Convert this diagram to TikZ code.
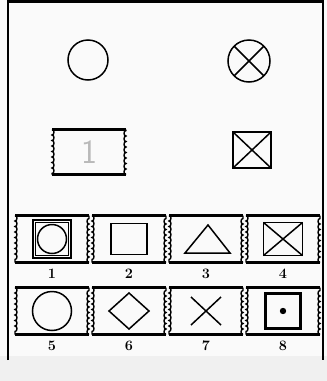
\documentclass[tikz,border=0pt]{standalone}
\usetikzlibrary{positioning,decorations.pathmorphing}
\begin{document}
\begin{tikzpicture}[x=1pt,y=-1pt,
  stamp/.style={minimum width=74, minimum height=47, inner sep=0, outer sep=0},
  rim/.style={line width=2.2},
  perf/.style={line width=1.4, decorate, decoration={bumps, amplitude=2, segment length=11}},
  glyph/.style={line width=1.5, inner sep=0, outer sep=0},
  num/.style={font=\Large\bfseries, inner sep=1}
]
  % paper and frame
  \useasboundingbox (0,0) rectangle (327,381);
  \fill[gray!4] (0,0) rectangle (327,381);
  \fill[gray!12] (0,356) rectangle (327,381);
  \draw[line width=2.2] (8,360) -- (8,1.5) -- (323,1.5) -- (323,360);

  % the given figures
  \node[glyph, draw, circle, minimum size=40] (ring) at (88,60) {};
  \node[glyph, draw, circle, minimum size=42] (cross) at (249,61) {};
  \draw[glyph] (cross.north west) -- (cross.south east) (cross.north east) -- (cross.south west);
  \node[stamp, minimum width=74, minimum height=45] (given) at (89,152) {};
  \node[font=\sffamily\fontsize{34}{34}\selectfont, text=gray!55] (one) at (given) {1};
  \node[glyph, draw, minimum width=38, minimum height=36] (boxx) at (252,150) {};
  \draw[glyph] (boxx.north west) -- (boxx.south east) (boxx.north east) -- (boxx.south west);

  % answer stamps
  \node[stamp] (s1) at (52,239) {};
  \node[stamp, right=3pt of s1] (s2) {};
  \node[stamp, right=3pt of s2] (s3) {};
  \node[stamp, right=3pt of s3] (s4) {};
  \node[stamp, below=25pt of s1] (s5) {};
  \node[stamp, right=3pt of s5] (s6) {};
  \node[stamp, right=3pt of s6] (s7) {};
  \node[stamp, right=3pt of s7] (s8) {};
  \foreach \s in {given,s1,s2,s3,s4,s5,s6,s7,s8} {
    \draw[rim] (\s.north west) -- (\s.north east) (\s.south west) -- (\s.south east);
    \draw[perf] (\s.north west) -- (\s.south west);
    \draw[perf] (\s.south east) -- (\s.north east);
  }
  \foreach \s/\n in {s1/1,s2/2,s3/3,s4/4,s5/5,s6/6,s7/7,s8/8}
    \node[num, below=5pt of \s] (l\n) {\n};

  % symbols inside the stamps
  \node[glyph, draw, minimum size=38] (q1) at (s1) {};
  \node[glyph, draw, minimum size=33] (q1i) at (s1) {};
  \node[glyph, draw, circle, minimum size=29] (c1) at (s1) {};
  \node[glyph, draw, minimum width=36, minimum height=31] (q2) at (s2) {};
  \draw[glyph] ([shift={(2,-14)}]s3.center) -- ([shift={(24,14)}]s3.center)
    -- ([shift={(-21,14)}]s3.center) -- cycle;
  \node[glyph, draw, minimum width=39, minimum height=33] (q4) at (s4) {};
  \draw[glyph] (q4.north west) -- (q4.south east) (q4.north east) -- (q4.south west);
  \node[glyph, draw, circle, minimum size=39] (c5) at (s5) {};
  \draw[glyph] ([shift={(0,-18)}]s6.center) -- ([shift={(20,0)}]s6.center)
    -- ([shift={(0,18)}]s6.center) -- ([shift={(-20,0)}]s6.center) -- cycle;
  \draw[glyph] ([shift={(-15,-14)}]s7.center) -- ([shift={(15,14)}]s7.center)
    ([shift={(15,-14)}]s7.center) -- ([shift={(-15,14)}]s7.center);
  \node[glyph, draw, minimum size=37] (q8) at (s8) {};
  \node[glyph, draw, minimum size=34] (q8i) at (s8) {};
  \fill (s8) circle (3.2);
\end{tikzpicture}
\end{document}
